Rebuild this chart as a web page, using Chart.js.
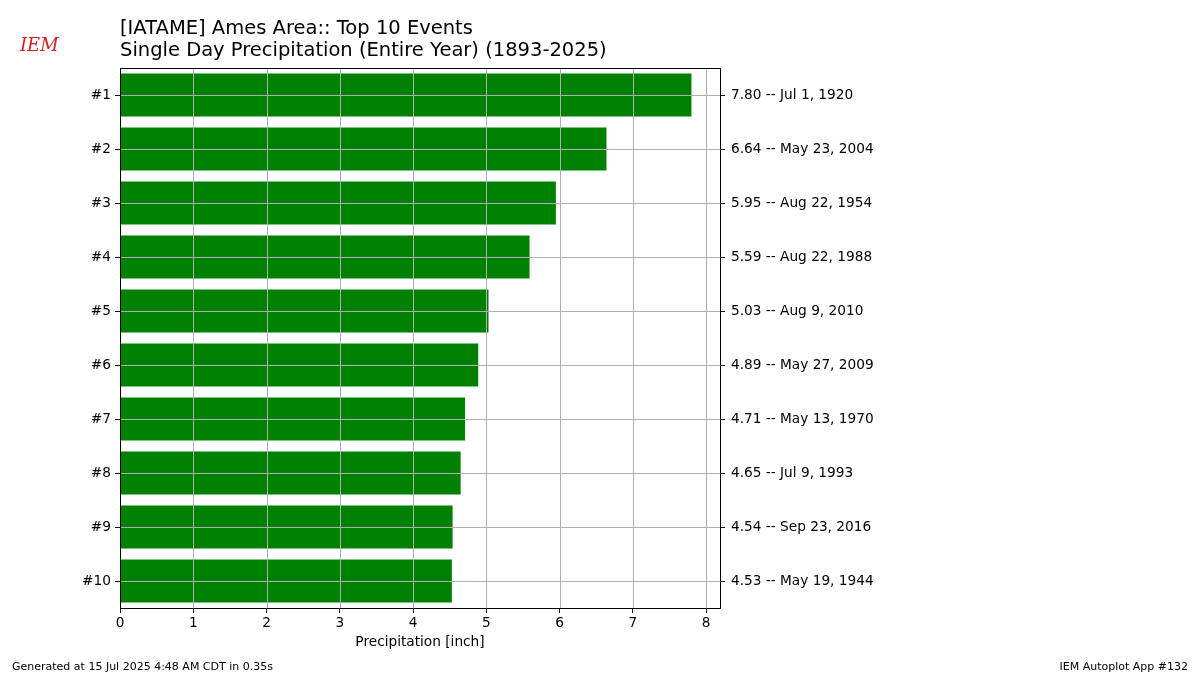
<!DOCTYPE html>
<html>
<head>
<meta charset="utf-8">
<script src="https://cdn.jsdelivr.net/npm/chart.js@4"></script>
<style>
  body { margin: 0; background: #fff; font-family: "DejaVu Sans", sans-serif; }
  #wrap { position: relative; width: 1200px; height: 675px; }
  .title { position: absolute; left: 120px; top: 17px; font-size: 19.5px; line-height: 22px; color: #000; }
  .foot { position: absolute; top: 660px; font-size: 11px; color: #000; }
  .logo { position: absolute; left: 20px; top: 34px; font-size: 18px; color: #d42020; font-family: "DejaVu Serif", serif; font-style: italic; }
</style>
</head>
<body>
<div id="wrap">
  <canvas id="chart" width="1200" height="675"></canvas>
  <div class="logo">IEM</div>
  <div class="title">[IATAME] Ames Area:: Top 10 Events<br>Single Day Precipitation (Entire Year) (1893-2025)</div>
  <div class="foot" style="left:12px">Generated at 15 Jul 2025 4:48 AM CDT in 0.35s</div>
  <div class="foot" style="right:12px">IEM Autoplot App #132</div>
</div>
<script>
const ranks = ['#1', '#2', '#3', '#4', '#5', '#6', '#7', '#8', '#9', '#10'];
const precip = [7.80, 6.64, 5.95, 5.59, 5.03, 4.89, 4.71, 4.65, 4.54, 4.53];
const dates = ['Jul 1, 1920', 'May 23, 2004', 'Aug 22, 1954', 'Aug 22, 1988', 'Aug 9, 2010',
  'May 27, 2009', 'May 13, 1970', 'Jul 9, 1993', 'Sep 23, 2016', 'May 19, 1944'];
const xTicks = [0, 1, 2, 3, 4, 5, 6, 7, 8];

const rightLabels = precip.map((v, i) => `${v.toFixed(2)} -- ${dates[i]}`);
const font = { family: 'DejaVu Sans', size: 13.7 };

// grid drawn over the bars, plus the full frame
const gridOnTop = {
  id: 'gridOnTop',
  afterDatasetsDraw(chart) {
    const { ctx, chartArea: a, scales } = chart;
    ctx.save();
    ctx.strokeStyle = '#b0b0b0';
    ctx.lineWidth = 1;
    ctx.beginPath();
    xTicks.forEach(t => {
      const x = Math.round(scales.x.getPixelForValue(t)) + 0.5;
      ctx.moveTo(x, a.top); ctx.lineTo(x, a.bottom);
    });
    ranks.forEach((r, i) => {
      const y = Math.round(scales.y.getPixelForValue(i)) + 0.5;
      ctx.moveTo(a.left, y); ctx.lineTo(a.right, y);
    });
    ctx.stroke();
    ctx.strokeStyle = '#000';
    ctx.strokeRect(a.left + 0.5, a.top + 0.5, a.right - a.left, a.bottom - a.top);
    ctx.restore();
  }
};

new Chart(document.getElementById('chart'), {
  type: 'bar',
  data: {
    labels: ranks,
    datasets: [{
      data: precip,
      backgroundColor: '#008000',
      categoryPercentage: 0.8,
      barPercentage: 1
    }]
  },
  options: {
    indexAxis: 'y',
    responsive: false,
    animation: false,
    layout: { padding: { top: 68, left: 0, right: 0, bottom: 22 } },
    plugins: { legend: { display: false }, tooltip: { enabled: false } },
    scales: {
      x: {
        min: 0, max: 8.19,
        afterBuildTicks: s => { s.ticks = xTicks.map(v => ({ value: v })); },
        ticks: { color: '#000', font, padding: 2 },
        grid: { drawOnChartArea: false, tickLength: 5, tickColor: '#000' },
        border: { color: '#000' },
        title: { display: true, text: 'Precipitation [inch]', color: '#000', font, padding: 2 },
        afterFit: s => { s.height = 45; }
      },
      y: {
        ticks: { color: '#000', font, padding: 4 },
        grid: { drawOnChartArea: false, offset: false, tickLength: 5, tickColor: '#000' },
        border: { color: '#000' },
        afterFit: s => { s.width = 120; }
      },
      y2: {
        type: 'category',
        position: 'right',
        labels: rightLabels,
        ticks: { color: '#000', font, padding: 6 },
        grid: { drawOnChartArea: false, offset: false, tickLength: 5, tickColor: '#000' },
        border: { color: '#000' },
        afterFit: s => { s.width = 480; }
      }
    }
  },
  plugins: [gridOnTop]
});
</script>
</body>
</html>
